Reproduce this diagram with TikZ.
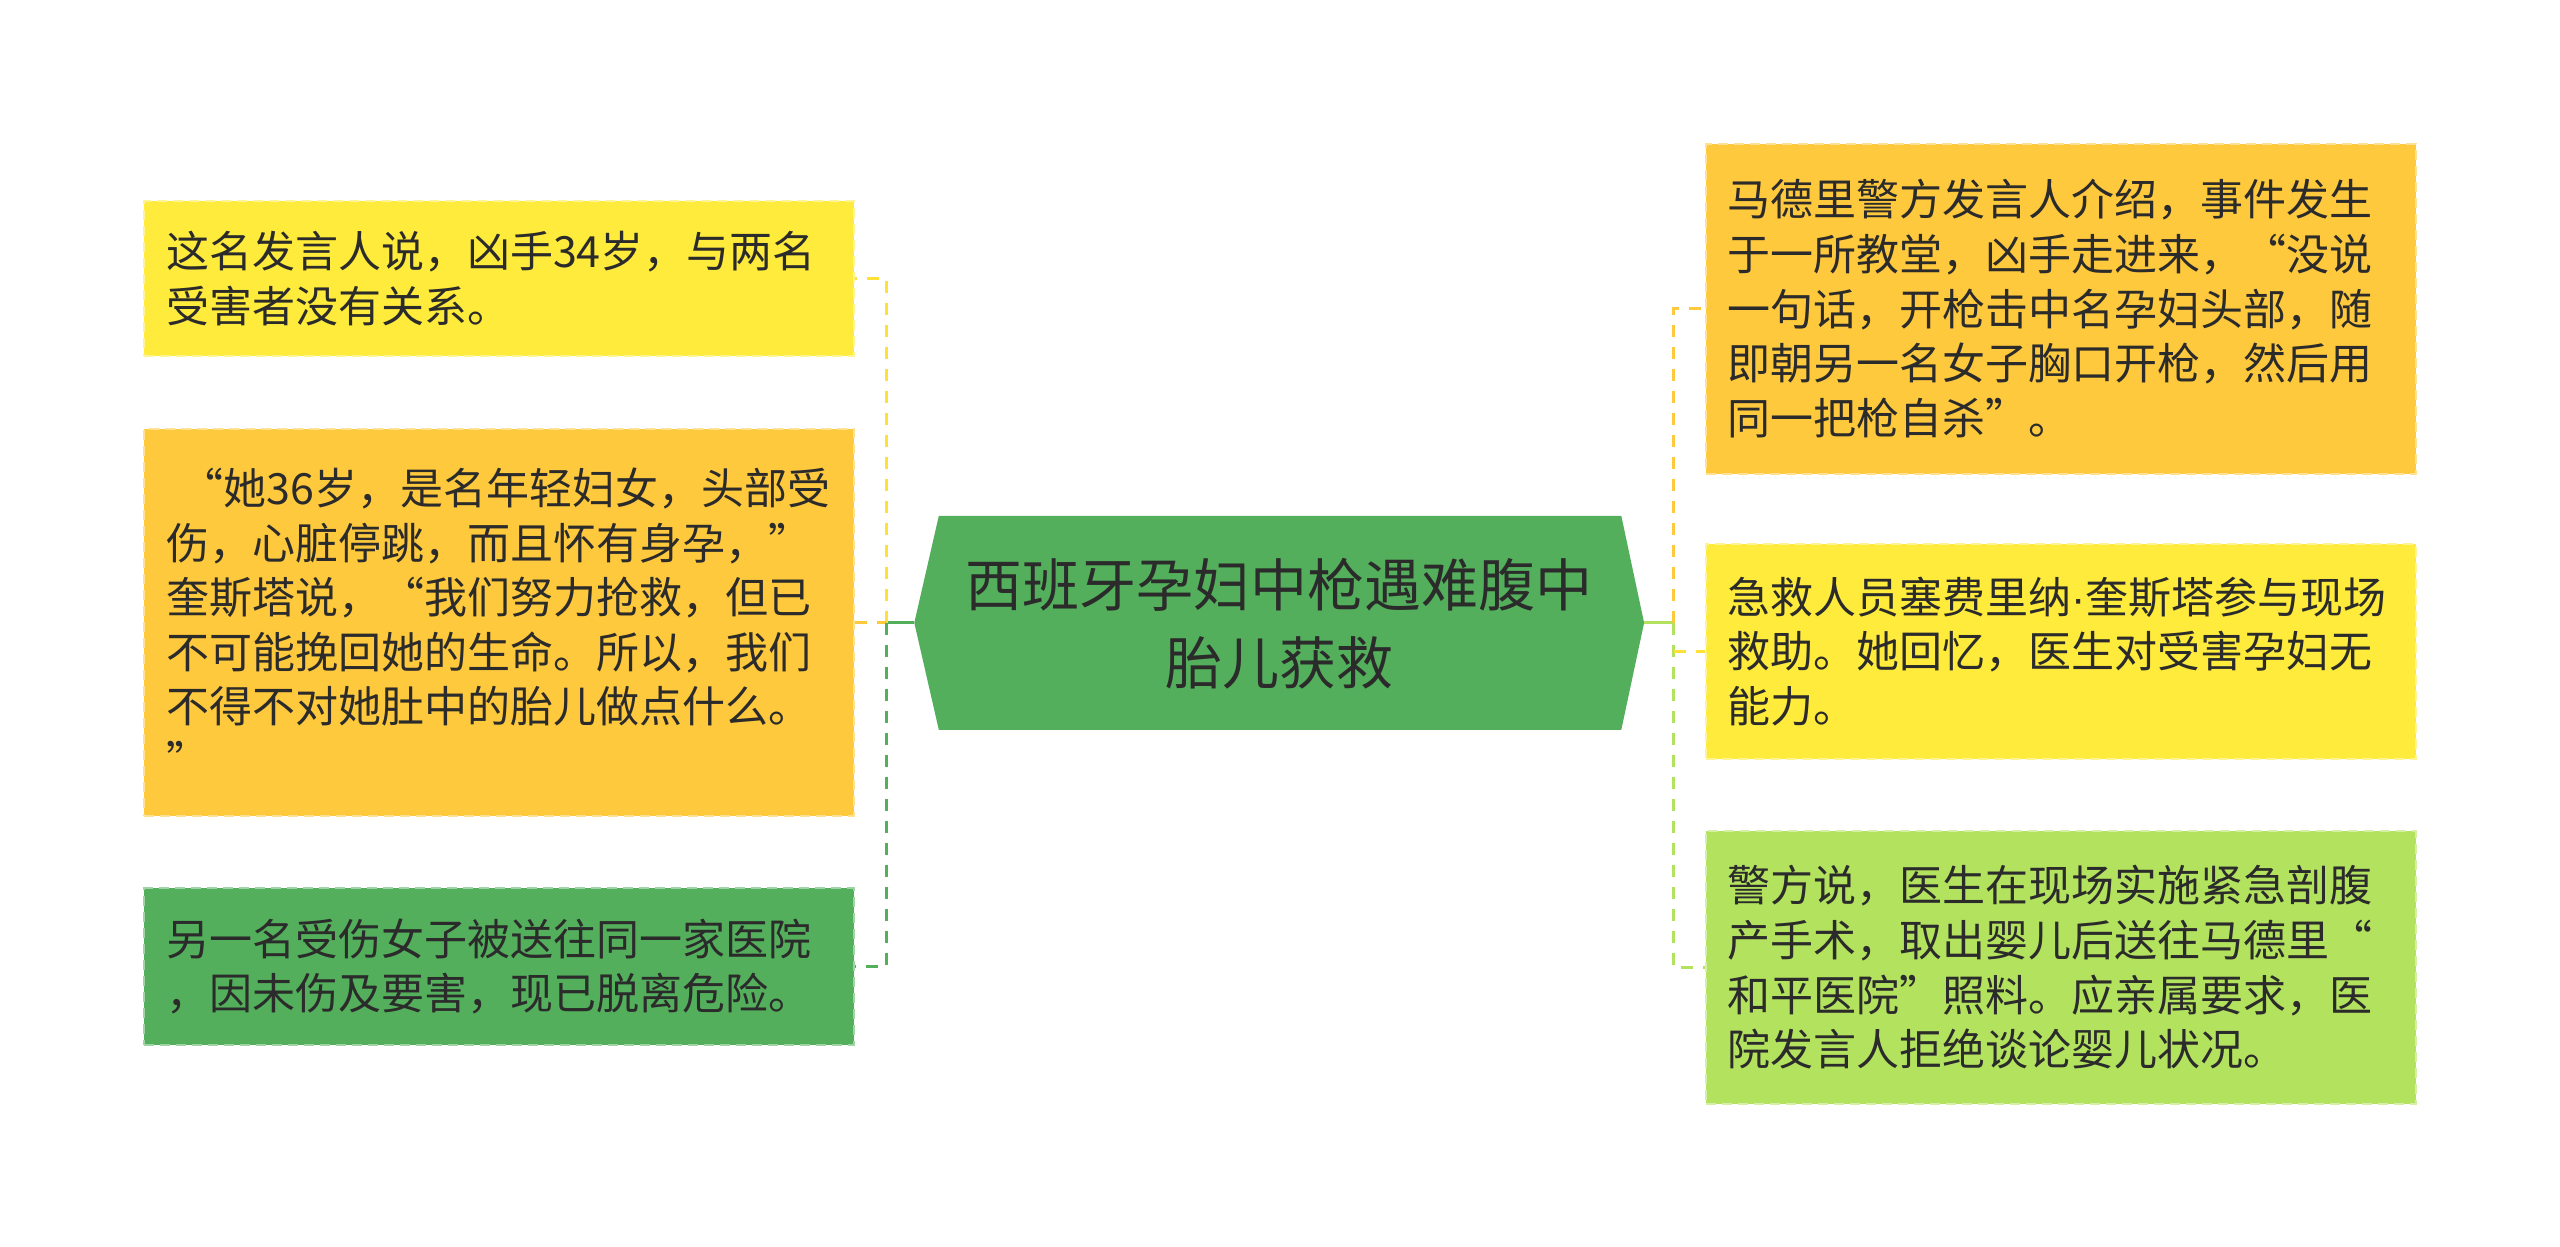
\documentclass[tikz,border=0pt]{standalone}
\usepackage{fontspec}
\setmainfont{Noto Sans CJK SC}
\newfontfamily\latinfont{Liberation Sans}
\usetikzlibrary{calc}
\definecolor{cyel}{HTML}{FFEB3B}
\definecolor{cora}{HTML}{FFC93D}
\definecolor{cgrn}{HTML}{53AF5B}
\definecolor{clgr}{HTML}{B3E35E}
\definecolor{ctxt}{HTML}{2B2B2B}
\tikzset{
  box/.style={rectangle, minimum width=355pt, text width=333pt, inner xsep=11pt, inner ysep=0pt,
    align=left, text=ctxt, font=\fontsize{21.5pt}{27.3pt}\selectfont, line width=1pt, dash pattern=on 5pt off 3pt},
  ybox/.style={box, fill=cyel, draw=cyel!55!white},
  obox/.style={box, fill=cora, draw=cora!55!white},
  gbox/.style={box, fill=cgrn, draw=cgrn!55!white},
  lbox/.style={box, fill=clgr, draw=clgr!55!white},
  conn/.style={line width=1.5pt},
  dconn/.style={line width=1.5pt, dash pattern=on 6pt off 5pt},
}
\begin{document}
\begin{tikzpicture}[x=0.5pt,y=-0.5pt]
\useasboundingbox[fill=white] (0,0) rectangle (2560,1247);
% centre
\fill[cgrn] (914.3,622.8) -- (938.8,515.9) -- (1621.3,515.9) -- (1644.1,622.8) -- (1621.3,729.8) -- (938.8,729.8) -- cycle;
\coordinate (hexL) at (914.3,622.8);
\coordinate (hexR) at (1644.1,622.8);
\node[align=center, text=ctxt, font=\fontsize{28.5pt}{39pt}\selectfont] (c) at (1279.2,624) {西班牙孕妇中枪遇难腹中\\胎儿获救};
% left boxes
\node[ybox, minimum height=77.5pt] (l1) at (499,278.5) {这名发言人说，凶手34岁，与两名\\受害者没有关系。};
\node[obox, minimum height=193.5pt] (l2) at (499,622.8) {\ “她36岁，是名年轻妇女，头部受\\伤，心脏停跳，而且怀有身孕，”\\奎斯塔说，“我们努力抢救，但已\\不可能挽回她的生命。所以，我们\\不得不对她肚中的胎儿做点什么。\\”};
\node[gbox, minimum height=78.3pt] (l3) at (499,966.5) {另一名受伤女子被送往同一家医院\\，因未伤及要害，现已脱离危险。};
% right boxes
\node[obox, minimum height=165pt] (r1) at (2060.5,308.6) {马德里警方发言人介绍，事件发生\\于一所教堂，凶手走进来，“没说\\一句话，开枪击中名孕妇头部，随\\即朝另一名女子胸口开枪，然后用\\同一把枪自杀”。};
\node[ybox, minimum height=107.7pt] (r2) at (2060.5,651.5) {急救人员塞费里纳{\latinfont ·}奎斯塔参与现场\\救助。她回忆，医生对受害孕妇无\\能力。};
\node[lbox, minimum height=136.4pt] (r3) at (2060.5,967.4) {警方说，医生在现场实施紧急剖腹\\产手术，取出婴儿后送往马德里“\\和平医院”照料。应亲属要求，医\\院发言人拒绝谈论婴儿状况。};
% left connectors
\coordinate (lj) at (886.6,622.8);
\draw[conn, cgrn] (lj) -- (hexL);
\draw[dconn, cyel!90!orange] (lj) -- (lj |- l1.east) -- (l1.east);
\draw[dconn, cora] (l2.east) -- (lj);
\draw[dconn, cgrn] (lj) -- (lj |- l3.east) -- (l3.east);
% right connectors
\coordinate (rj) at (1673.5,622.8);
\draw[conn, clgr] (hexR) -- (rj);
\draw[dconn, cora] (rj) -- (rj |- r1.west) -- (r1.west);
\draw[dconn, clgr] (rj) -- (rj |- r3.west) -- (r3.west);
\draw[dconn, cyel!90!orange] (rj |- r2.west) -- (r2.west);
\end{tikzpicture}
\end{document}
